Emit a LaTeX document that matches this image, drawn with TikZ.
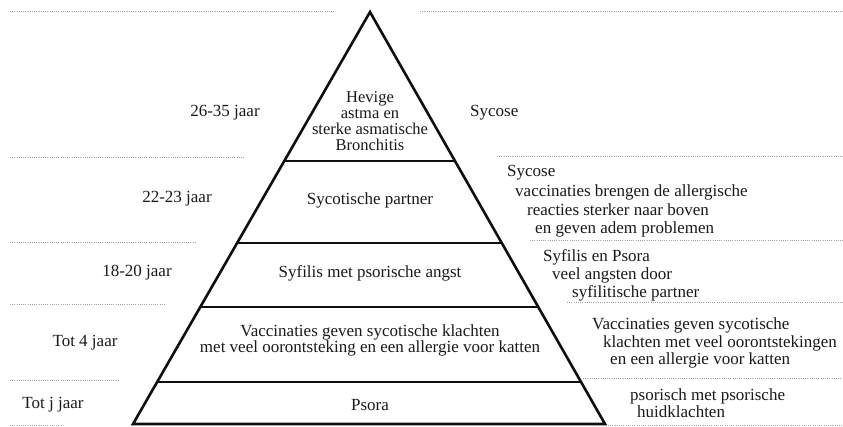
\documentclass[tikz,border=0pt]{standalone}
\usepackage{fontspec}
\setmainfont{Liberation Serif}
\usepackage{xcolor}
\usepackage{tikz}
\usetikzlibrary{calc}
\definecolor{pyInk}{RGB}{15, 15, 15}
\definecolor{pyText}{RGB}{25, 25, 25}
\definecolor{pyDots}{RGB}{165, 160, 160}
\tikzset{
    base/.style={
        font=\fontsize{17}{15}\selectfont,
        text=pyText,
        inner sep=0pt
    },
    level/.style={
        base,
        align=center
    },
    age/.style={
        base
    },
    note/.style={
        base,
        anchor=west
    },
    edge/.style={
        line width=2.6pt,
        draw=pyInk,
        line join=miter
    },
    rule/.style={
        draw=pyDots,
        line width=1pt,
        dash pattern=on 1pt off 1.2pt
    }
}

\begin{document}
\begin{tikzpicture}[x=1pt, y=-1pt]
  \useasboundingbox (0,0) rectangle (843,427);

  % Pyramid
  \coordinate (apex) at (370,12);
  \coordinate (bl) at (133,424);
  \coordinate (br) at (605,424);
  \draw[edge] (bl) -- (apex) -- (br) -- cycle;
  \foreach \y in {161,243,307,382}
    \draw[edge] ($(apex)!{(\y-12)/412}!(bl)$) -- ($(apex)!{(\y-12)/412}!(br)$);

  % Dotted rules
  \draw[rule] (10,12) -- (335,12);
  \draw[rule] (420,12) -- (843,12);
  \draw[rule] (10,158) -- (245,158);
  \draw[rule] (497,157) -- (843,157);
  \draw[rule] (10,243) -- (195,243);
  \draw[rule] (530,241) -- (843,241);
  \draw[rule] (10,305) -- (165,305);
  \draw[rule] (567,303) -- (843,303);
  \draw[rule] (10,380) -- (120,380);
  \draw[rule] (583,378) -- (843,378);
  \draw[rule] (10,425) -- (62,425);
  \draw[rule] (597,425) -- (843,425);

  % Levels
  \node[level, font=\fontsize{16.5}{16}\selectfont] (l5) at (370,121) {Hevige\\astma en\\sterke asmatische\\Bronchitis};
  \node[level] (l4) at (370,200) {Sycotische partner};
  \node[level] (l3) at (370,273) {Syfilis met psorische angst};
  \node[level, font=\fontsize{17}{16}\selectfont] (l2) at (370,340) {Vaccinaties geven sycotische klachten\\met veel oorontsteking en een allergie voor katten};
  \node[level] (l1) at (370,405) {Psora};

  % Ages
  \node[age] (a5) at (225,113) {26-35 jaar};
  \node[age] (a4) at (177,199) {22-23 jaar};
  \node[age] (a3) at (137,273) {18-20 jaar};
  \node[age] (a2) at (85,343) {Tot 4 jaar};
  \node[age] (a1) at (53,405) {Tot j jaar};

  % Notes
  \node[note] (n5) at (470,113) {Sycose};
  \node[note] (n4a) at (507,173) {Sycose};
  \node[note] (n4b) at (515,192) {vaccinaties brengen de allergische};
  \node[note] (n4c) at (527,210) {reacties sterker naar boven};
  \node[note] (n4d) at (535,229) {en geven adem problemen};
  \node[note] (n3a) at (543,257) {Syfilis en Psora};
  \node[note] (n3b) at (552,275) {veel angsten door};
  \node[note] (n3c) at (572,293) {syfilitische partner};
  \node[note] (n2a) at (592,325) {Vaccinaties geven sycotische};
  \node[note] (n2b) at (603,343) {klachten met veel oorontstekingen};
  \node[note] (n2c) at (610,360) {en een allergie voor katten};
  \node[note] (n1a) at (630,396) {psorisch met psorische};
  \node[note] (n1b) at (637,412) {huidklachten};
\end{tikzpicture}
\end{document}
